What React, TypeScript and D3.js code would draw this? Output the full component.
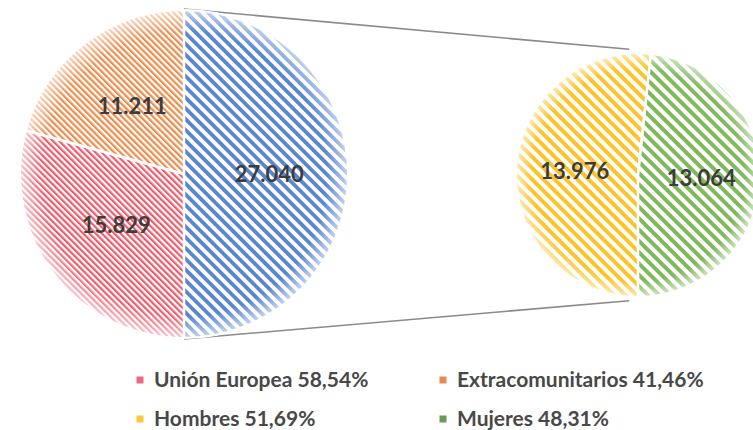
import React, { useEffect, useRef } from 'react';
import * as d3 from 'd3';

const leftCategories = ['Total sexo', 'Unión Europea', 'Extracomunitarios'];
const leftValues = [27040, 15829, 11211];
const rightCategories = ['Hombres', 'Mujeres'];
const rightValues = [13976, 13064];
const legendLabels = ['Unión Europea 58,54%', 'Extracomunitarios 41,46%', 'Hombres 51,69%', 'Mujeres 48,31%'];

// stripe colours + spacing per slice
const leftColors = ['#5a86d0', '#f05b6c', '#ee8c4c'];
const leftPeriods = [7.6, 4.4, 4.4];
const rightColors = ['#fcc429', '#80b85c'];
const rightPeriods = [8, 8];
const legendColors = ['#ea6a86', '#ea8a52', '#fcc838', '#6a9a56'];

const locale = d3.formatLocale({ decimal: ',', thousands: '.', grouping: [3], currency: ['', '€'] });
const fmt = locale.format(',d');

const App: React.FC = () => {
  const svgRef = useRef<SVGSVGElement | null>(null);

  useEffect(() => {
    const width = 753;
    const height = 430;
    const svg = d3.select(svgRef.current).attr('width', width).attr('height', height);
    svg.selectAll('*').remove();

    const defs = svg.append('defs');

    const addPattern = (id: string, color: string, period: number) => {
      const p = defs
        .append('pattern')
        .attr('id', id)
        .attr('patternUnits', 'userSpaceOnUse')
        .attr('width', period)
        .attr('height', period)
        .attr('patternTransform', 'rotate(-45)');
      p.append('rect').attr('width', period).attr('height', period).attr('fill', '#fff');
      p.append('rect').attr('width', period * 0.5).attr('height', period).attr('fill', color);
    };
    leftColors.forEach((c, i) => addPattern(`pl${i}`, c, leftPeriods[i]));
    rightColors.forEach((c, i) => addPattern(`pr${i}`, c, rightPeriods[i]));

    const glow = defs.append('radialGradient').attr('id', 'glow');
    glow.append('stop').attr('offset', '0.87').attr('stop-color', '#fff').attr('stop-opacity', 0);
    glow.append('stop').attr('offset', '1').attr('stop-color', '#fff').attr('stop-opacity', 0.65);

    const cx1 = 184, cy1 = 174, r1 = 164;
    const cx2 = 638, cy2 = 175, r2 = 122;

    // connector lines
    const angA = (-4 * Math.PI) / 180;
    const angB = (184 * Math.PI) / 180;
    const lines = [
      [[cx1, cy1 - r1 - 1], [cx2 + (r2 + 4) * Math.sin(angA), cy2 - (r2 + 4) * Math.cos(angA)]],
      [[cx1, cy1 + r1 + 1], [cx2 + (r2 + 4) * Math.sin(angB), cy2 - (r2 + 4) * Math.cos(angB)]],
    ];
    svg
      .selectAll('line.conn')
      .data(lines)
      .enter()
      .append('line')
      .attr('x1', (d) => d[0][0])
      .attr('y1', (d) => d[0][1])
      .attr('x2', (d) => d[1][0])
      .attr('y2', (d) => d[1][1])
      .attr('stroke', '#8a8a8a')
      .attr('stroke-width', 1.6);

    const drawPie = (
      values: number[],
      cats: string[],
      prefix: string,
      cx: number,
      cy: number,
      r: number,
      start: number
    ) => {
      const pie = d3
        .pie<number>()
        .sort(null)
        .startAngle(start)
        .endAngle(start + 2 * Math.PI);
      const arcs = pie(values);
      const arc = d3.arc<d3.PieArcDatum<number>>().innerRadius(0).outerRadius(r);
      const labelArc = d3.arc<d3.PieArcDatum<number>>().innerRadius(r * 0.52).outerRadius(r * 0.52);
      const g = svg.append('g').attr('transform', `translate(${cx}, ${cy})`);
      g.selectAll('path')
        .data(arcs)
        .enter()
        .append('path')
        .attr('d', arc)
        .attr('fill', (_, i) => `url(#${prefix}${i})`)
        .attr('stroke', '#fff')
        .attr('stroke-width', 2)
        .attr('data-cat', (_, i) => cats[i]);
      g.append('circle').attr('r', r).attr('fill', 'url(#glow)').attr('stroke', '#fff').attr('stroke-width', 1);
      g.selectAll('line.sep')
        .data(arcs)
        .enter()
        .append('line')
        .attr('x1', 0)
        .attr('y1', 0)
        .attr('x2', (d) => r * Math.sin(d.startAngle))
        .attr('y2', (d) => -r * Math.cos(d.startAngle))
        .attr('stroke', '#fff')
        .attr('stroke-width', 2.5);
      g.selectAll('text')
        .data(arcs)
        .enter()
        .append('text')
        .attr('x', (d) => labelArc.centroid(d)[0])
        .attr('y', (d) => labelArc.centroid(d)[1])
        .attr('dy', '0.35em')
        .attr('text-anchor', 'middle')
        .attr('font-family', 'Lato, "Open Sans", sans-serif')
        .attr('font-weight', 'bold')
        .attr('font-size', 22)
        .attr('fill', '#3c3c3c')
        .text((d) => fmt(d.data));
    };

    drawPie(leftValues, leftCategories, 'pl', cx1, cy1, r1, 0);
    drawPie(rightValues, rightCategories, 'pr', cx2, cy2, r2, Math.PI);

    // Legend
    const colX = d3.scaleOrdinal<number, number>().domain([0, 1]).range([140, 443]);
    const rowY = d3.scaleOrdinal<number, number>().domain([0, 1]).range([380, 419]);
    const lg = svg
      .selectAll('g.legend')
      .data(legendLabels)
      .enter()
      .append('g')
      .attr('transform', (_, i) => `translate(${colX(i % 2)}, ${rowY(Math.floor(i / 2))})`);
    lg.append('rect')
      .attr('x', -3.5)
      .attr('y', -3.5)
      .attr('width', 7)
      .attr('height', 7)
      .attr('fill', (_, i) => legendColors[i]);
    lg.append('text')
      .attr('x', 14)
      .attr('dy', '0.35em')
      .attr('font-family', 'Lato, "Open Sans", sans-serif')
      .attr('font-weight', 'bold')
      .attr('font-size', 21)
      .attr('fill', '#484848')
      .text((d) => d);
  }, []);

  return (
    <div style={{ position: 'absolute', left: 0, top: 0 }}>
      <svg ref={svgRef} style={{ display: 'block' }}></svg>
    </div>
  );
};

export default App;
